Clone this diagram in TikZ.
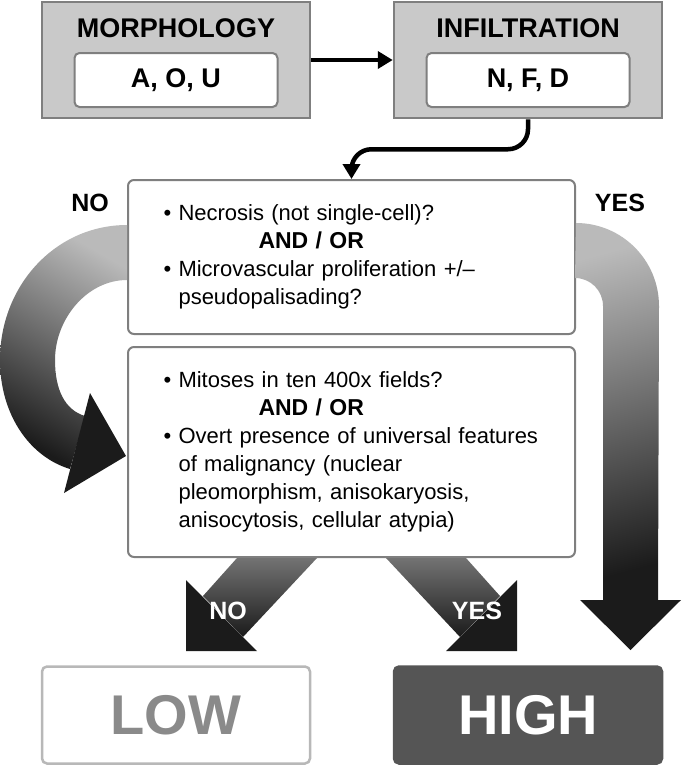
\documentclass[tikz,border=0pt]{standalone}
\usepackage{fontspec}
\setmainfont{Liberation Sans}
\usetikzlibrary{arrows.meta}

\definecolor{boxgray}{HTML}{C9C9C9}
\definecolor{edgegray}{HTML}{7F7F7F}
\definecolor{lowgray}{HTML}{8A8A8A}
\definecolor{highgray}{HTML}{555555}
\definecolor{headblack}{HTML}{1B1B1B}

\tikzset{
  outerbox/.style={draw=edgegray, line width=2.5pt, fill=boxgray, minimum width=268pt, minimum height=116pt},
  codebox/.style={draw=edgegray, line width=2pt, fill=white, rounded corners=5pt, minimum width=203pt, minimum height=54pt, font=\fontsize{27}{30}\selectfont\bfseries},
  headline/.style={font=\fontsize{27}{30}\selectfont\bfseries},
  questionbox/.style={draw=edgegray, line width=2pt, fill=white, rounded corners=6pt, text width=382pt, inner xsep=32.5pt, align=left, font=\fontsize{22}{28}\selectfont},
  answer/.style={font=\fontsize{25}{28}\selectfont\bfseries},
  gradebox/.style={line width=2.5pt, rounded corners=5pt, minimum width=268pt, minimum height=97pt, font=\fontsize{56}{60}\selectfont\bfseries},
  thinarrow/.style={line width=4.5pt, -{Triangle[length=15pt,width=17pt]}},
  band/.style={top color=black!27, bottom color=headblack},
  tipfill/.style={fill=headblack}
}
\newcommand{\andor}{\hspace*{98pt}{\fontsize{23}{28}\selectfont\bfseries AND / OR}}
\newcommand{\indentline}{\hphantom{• }}

\begin{document}
\begin{tikzpicture}[x=1pt, y=-1pt]
\useasboundingbox (0,0) rectangle (681,766);

% top row
\node[outerbox] (morph) at (176,60) {};
\node[headline] (morphname) at (176,28) {MORPHOLOGY};
\node[codebox] (morphcode) at (176,80) {A, O, U};
\node[outerbox] (infil) at (528,60) {};
\node[headline] (infilname) at (528,28) {INFILTRATION};
\node[codebox] (infilcode) at (528,80) {N, F, D};

% questions
\node[questionbox, minimum height=154pt] (necrosis) at (351.5,257) {\hspace*{3pt}• Necrosis (not single-cell)?\\
  \andor\\
  \hspace*{3pt}• Microvascular proliferation +/–\\
  \hspace*{3pt}\indentline pseudopalisading?};
\node[questionbox, minimum height=210pt] (mitoses) at (351.5,452) {\hspace*{3pt}• Mitoses in ten 400x fields?\\
  \andor\\
  \hspace*{3pt}• Overt presence of universal features\\
  \hspace*{3pt}\indentline of malignancy (nuclear\\
  \hspace*{3pt}\indentline pleomorphism, anisokaryosis,\\
  \hspace*{3pt}\indentline anisocytosis, cellular atypia)};

\draw[thinarrow] (morph) -- (infil);
\draw[thinarrow, rounded corners=20pt] (infil.south) -- ++(0,30) -| (necrosis.north);

% side answers
\node[answer] (nolabel) at (90,203) {NO};
\node[answer] (yeslabel) at (620,203) {YES};

% NO loop
\shade[band, shading angle=-30] (necrosis.west |- 0,225) .. controls (56,225) and (0,285) .. (0,360) .. controls (0,415) and (30,457) .. (70,469) -- (85,416) .. controls (65,410) and (55,390) .. (55,360) .. controls (55,319) and (87,280) .. (necrosis.west |- 0,280) -- cycle;
\fill[tipfill] (90,393) -- (126,456) -- (64,493) -- cycle;

% YES band
\shade[band, shading angle=15] (necrosis.east |- 0,223) arc[start angle=270, end angle=360, radius=83] -- (658,600) -- (603,600) -- (603,306) arc[start angle=0, end angle=-90, radius=28] -- cycle;
\fill[tipfill] (580,600) -- (681,600) -- (630.5,650) -- cycle;

% bottom answers
\shade[band, top color=black!55] ([xshift=-114.5pt]mitoses.south) -- ([xshift=-34.5pt]mitoses.south) -- (243,637) -- (203,596) -- cycle;
\fill[tipfill] (186,580) -- (257,651) -- (186,651) -- cycle;
\node[answer, text=white] (nobottom) at (228,611) {NO};
\shade[band, top color=black!55] ([xshift=114.5pt]mitoses.south) -- ([xshift=34.5pt]mitoses.south) -- (460,637) -- (500,596) -- cycle;
\fill[tipfill] (517,580) -- (446,651) -- (517,651) -- cycle;
\node[answer, text=white] (yesbottom) at (477,611) {YES};

% grades
\node[gradebox, draw=black!28, fill=white, text=lowgray] (low) at (176,715) {LOW};
\node[gradebox, draw=highgray, fill=highgray, text=white] (high) at (528,715) {HIGH};
\end{tikzpicture}
\end{document}
